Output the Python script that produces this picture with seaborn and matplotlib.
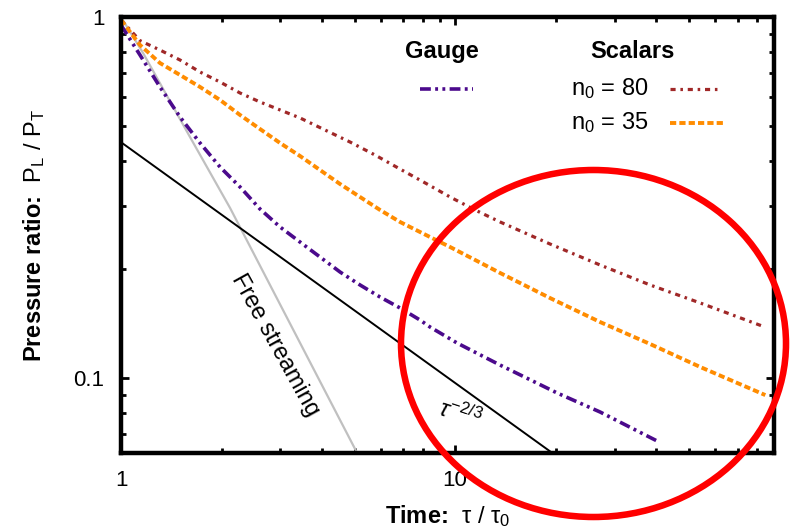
import numpy as np
import pandas as pd
import matplotlib
matplotlib.use("Agg")
import matplotlib.pyplot as plt
import seaborn as sns
from matplotlib.lines import Line2D
from matplotlib.patches import Ellipse
from matplotlib.ticker import LogLocator, NullFormatter, FixedLocator

# ---------------- data ----------------
gauge_t = [1.0, 1.14, 1.308, 1.502, 1.724, 1.979, 2.272, 2.607, 2.993, 3.435, 3.943, 4.526,
           5.195, 5.963, 6.845, 7.857, 8.418, 10.14, 13.64, 20.20, 27.17, 40.26]
gauge_r = [0.95, 0.7847, 0.64, 0.5284, 0.4477, 0.3841, 0.3381, 0.2938, 0.262, 0.238, 0.2163, 0.1966,
           0.181, 0.1676, 0.1563, 0.1447, 0.1384, 0.125, 0.1086, 0.0909, 0.0805, 0.0669]

n80_t = [1.0, 1.14, 1.308, 1.502, 1.724, 1.979, 2.272, 2.607, 2.993, 3.435, 4.081, 4.85,
         5.76, 6.845, 8.246, 9.661, 11.48, 13.64, 19.25, 27.17, 38.35, 54.14, 83.04]
n80_r = [0.981, 0.86, 0.81, 0.7601, 0.7041, 0.6605, 0.6158, 0.5815, 0.5527, 0.5252, 0.4863, 0.4504,
         0.4146, 0.3791, 0.3446, 0.3172, 0.292, 0.2705, 0.235, 0.2056, 0.181, 0.1614, 0.1393]

n35_t = [1.0, 1.14, 1.308, 1.502, 1.724, 1.979, 2.272, 2.607, 2.993, 3.435, 3.943, 4.526,
         5.195, 5.963, 6.845, 8.418, 9.661, 11.48, 13.64, 19.25, 27.17, 38.35, 54.14, 84.77]
n35_r = [0.981, 0.8365, 0.7456, 0.6908, 0.64, 0.589, 0.5352, 0.4894, 0.4476, 0.412, 0.3767, 0.3446,
         0.3172, 0.292, 0.2705, 0.2457, 0.2306, 0.2123, 0.1954, 0.1665, 0.1429, 0.1242, 0.1073, 0.0897]

free_t = [1.0, 1.164, 1.609, 2.121, 5.09, 5.3]
free_r = [1.0, 0.795, 0.465, 0.2957, 0.062, 0.0577]

ref_t = [1.0, 25.0]
ref_r = [0.45, 0.0526]

x_ticks = [1, 10]
x_labels = ["1", "10"]
y_ticks = [0.1, 1]
y_labels = ["0.1", "1"]

# ---------------- style ----------------
sns.set_theme(style="ticks")
plt.rcParams["font.family"] = ["Liberation Sans", "DejaVu Sans"]
plt.rcParams["mathtext.fontset"] = "custom"
plt.rcParams["mathtext.rm"] = "Liberation Sans"
plt.rcParams["mathtext.it"] = "Liberation Sans:italic"
plt.rcParams["mathtext.bf"] = "Liberation Sans:bold"

fig = plt.figure(figsize=(7.9, 5.32), dpi=100)
ax = fig.add_axes([121 / 790, (532 - 453) / 532, 653 / 790, 436 / 532])

df_free = pd.DataFrame({"t": free_t, "r": free_r})
df_ref = pd.DataFrame({"t": ref_t, "r": ref_r})
df_g = pd.DataFrame({"t": gauge_t, "r": gauge_r})
df_80 = pd.DataFrame({"t": n80_t, "r": n80_r})
df_35 = pd.DataFrame({"t": n35_t, "r": n35_r})

sns.lineplot(data=df_free, x="t", y="r", ax=ax, color="#c0c0c0", linewidth=1.6,
             sort=False, estimator=None, legend=False)
sns.lineplot(data=df_ref, x="t", y="r", ax=ax, color="black", linewidth=1.4,
             sort=False, estimator=None, legend=False)

gauge_style = dict(color="#4b0a8c", linewidth=2.6, linestyle=(0, (3, 1.2, 0.8, 1.2, 0.8, 1.2)),
                   solid_joinstyle="round", dash_joinstyle="round")
n80_style = dict(color="#a02828", linewidth=2.3, linestyle=(0, (1.6, 1.5, 0.8, 1.5)),
                 dash_joinstyle="round")
n35_style = dict(color="#ff8c00", linewidth=2.8, linestyle=(0, (1.6, 0.8)), dash_joinstyle="round")

sns.lineplot(data=df_80, x="t", y="r", ax=ax, sort=False, estimator=None, legend=False, **n80_style)
sns.lineplot(data=df_35, x="t", y="r", ax=ax, sort=False, estimator=None, legend=False, **n35_style)
sns.lineplot(data=df_g, x="t", y="r", ax=ax, sort=False, estimator=None, legend=False, **gauge_style)

ax.set_xscale("log")
ax.set_yscale("log")
ax.set_xlim(1, 90)
ax.set_ylim(0.062, 1)

ax.xaxis.set_major_locator(FixedLocator(x_ticks))
ax.set_xticklabels(x_labels)
ax.yaxis.set_major_locator(FixedLocator(y_ticks))
ax.set_yticklabels(y_labels)
ax.xaxis.set_minor_locator(LogLocator(base=10, subs=np.arange(2, 10)))
ax.yaxis.set_minor_locator(LogLocator(base=10, subs=np.arange(2, 10)))
ax.xaxis.set_minor_formatter(NullFormatter())
ax.yaxis.set_minor_formatter(NullFormatter())

ax.tick_params(which="both", direction="in", top=True, right=True, color="black", width=2.0)
ax.tick_params(which="major", length=6, labelsize=16, pad=12, labelcolor="black")
ax.tick_params(which="minor", length=3.5)
for s in ax.spines.values():
    s.set_linewidth(3.2)
    s.set_color("black")
ax.grid(False)

ax.set_xlabel(r"$\mathbf{Time\colon}$  $\mathrm{\tau}$ / $\mathrm{\tau_0}$", fontsize=17, labelpad=9,
              color="black")
ax.set_ylabel(r"$\mathbf{Pressure\ ratio\colon}$  P$_\mathrm{L}$ / P$_\mathrm{T}$", fontsize=17,
              labelpad=19, color="black")

# annotations
ax.text(2.89, 0.1234, "Free streaming", rotation=-61, rotation_mode="anchor",
        ha="center", va="center", fontsize=17, color="black")
ax.text(10.35, 0.079, r"$\tau^{-2/3}$", rotation=-18, rotation_mode="anchor",
        ha="center", va="center", fontsize=17, color="black")

# legend (manual, two column headers)
tr = ax.transAxes
ax.text(0.4916, 0.922, "Gauge", transform=tr, ha="center", va="center", fontsize=17,
        fontweight="bold", color="black")
ax.text(0.7825, 0.922, "Scalars", transform=tr, ha="center", va="center", fontsize=17,
        fontweight="bold", color="black")
ax.add_line(Line2D([0.4579, 0.5391], [0.8349, 0.8349], transform=tr, **gauge_style))
ax.text(0.8070, 0.8211, r"n$_0$ = 80", transform=tr, ha="right", va="baseline", fontsize=17, color="black")
ax.add_line(Line2D([0.8407, 0.9173], [0.8349, 0.8349], transform=tr, **n80_style))
ax.text(0.8070, 0.7431, r"n$_0$ = 35", transform=tr, ha="right", va="baseline", fontsize=17, color="black")
ax.add_line(Line2D([0.8407, 0.9219], [0.7569, 0.7569], transform=tr, **n35_style))

# red highlight ellipse (figure coordinates, not clipped)
ell = Ellipse((593.5 / 790, 1 - 343.5 / 532), 385 / 790, 347 / 532, transform=fig.transFigure,
              fill=False, edgecolor="#ff0000", linewidth=4.7, zorder=10)
fig.patches.append(ell)

fig.savefig("out.png", dpi=100)
